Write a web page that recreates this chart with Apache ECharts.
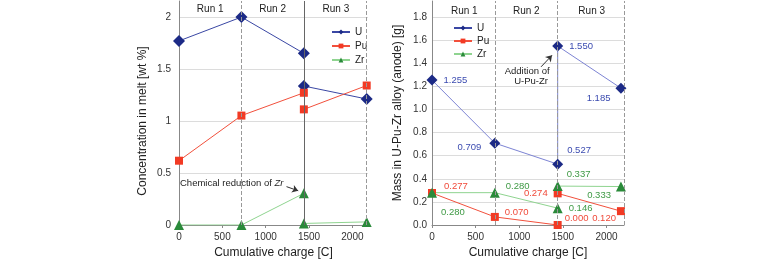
<!DOCTYPE html>
<html>
<head>
<meta charset="utf-8">
<script src="https://cdn.jsdelivr.net/npm/echarts@6/dist/echarts.min.js"></script>
<style>
  html, body { margin: 0; padding: 0; background: #fff; }
  #chart { width: 775px; height: 260px; }
</style>
</head>
<body>
<div id="chart"></div>
<script>
// 熔盐中浓度 (左图)
const chargeMeltA = [0, 720, 1440]
const chargeMeltB = [1440, 2165]
const uMeltA = [1.775, 2.005, 1.655]
const uMeltB = [1.34, 1.215]
const puMeltA = [0.62, 1.055, 1.275]
const puMeltB = [1.115, 1.345]
const zrMeltA = [0, 0, 0.305]
const zrMeltB = [0.015, 0.03]

// 阳极合金质量 (右图)
const chargeU = [0, 720, 1440, 1440, 2165]
const uMass = [1.255, 0.709, 0.527, 1.55, 1.185]
const chargeMassA = [0, 720, 1440]
const chargeMassB = [1440, 2165]
const puMassA = [0.277, 0.07, 0.0]
const puMassB = [0.274, 0.12]
const zrMassA = [0.28, 0.28, 0.146]
const zrMassB = [0.337, 0.333]

const runNames = ['Run 1', 'Run 2', 'Run 3']
const runCentersL = [360, 1080, 1810]
const runCentersR = [370, 1080, 1830]
const meltTicks = [0, 0.5, 1, 1.5, 2]
const massTicks = [0, 0.2, 0.4, 0.6, 0.8, 1.0, 1.2, 1.4, 1.6, 1.8]

// 数值标签的位置 (样式)
const uLabelPos = [
  { position: 'right', distance: 6 },
  { position: 'left', distance: 8, offset: [0, 4] },
  { position: 'right', distance: 4, offset: [0, -14] },
  { position: 'right', distance: 6 },
  { position: 'left', distance: 5, offset: [0, 10] }
]
const puLabelPosA = [
  { position: 'right', distance: 8, offset: [0, -7] },
  { position: 'right', distance: 6, offset: [0, -5] },
  { position: 'right', distance: 3, offset: [0, -7] }
]
const puLabelPosB = [
  { position: 'left', distance: 6 },
  { position: 'left', distance: 1, offset: [0, 7] }
]
const zrLabelPosA = [
  { position: 'right', distance: 4, offset: [0, 20] },
  { position: 'right', distance: 6, offset: [0, -6] },
  { position: 'right', distance: 6 }
]
const zrLabelPosB = [
  { position: 'right', distance: 4, offset: [0, -12] },
  { position: 'left', distance: 5, offset: [0, 9] }
]

const FONT = '"Liberation Sans", Arial, sans-serif'
const C_U = '#1c2a86', C_UL = '#3a47a4', C_UL2 = '#7d84d4'
const C_PU = '#f23a24', C_PUL = '#f2503c'
const C_ZR = '#2a8a3a', C_ZRL = '#8fd490'
const C_UT = '#3b4bb0', C_PUT = '#f04a3a', C_ZRT = '#3f9a45'

function pts(xs, ys, pos) {
  return ys.map((v, i) => {
    const d = { value: [xs[i], v] }
    if (pos) d.label = pos[i]
    return d
  })
}

function valueLabel(color) {
  return {
    show: true,
    fontFamily: FONT,
    fontSize: 9.5,
    color: color,
    formatter: p => p.value[1].toFixed(3)
  }
}

function lineSeries(name, idx, xs, ys, opts) {
  return {
    name: name,
    type: 'line',
    xAxisIndex: idx,
    yAxisIndex: idx,
    data: pts(xs, ys, opts.pos),
    symbol: opts.symbol,
    symbolSize: opts.size,
    itemStyle: { color: opts.color },
    lineStyle: { color: opts.lineColor, width: opts.width || 1 },
    label: opts.pos ? valueLabel(opts.textColor) : { show: false },
    z: 3,
    animation: false
  }
}

function splitColors(n) {
  const arr = []
  for (let i = 0; i < n; i++) arr.push('#dcdcdc')
  arr.push('rgba(0,0,0,0)')
  return arr
}

function runMarks(centers, y) {
  return centers.map((c, i) => ({
    name: runNames[i],
    coord: [c, y],
    symbol: 'rect',
    symbolSize: 0,
    label: { show: true, position: 'inside', formatter: '{b}', fontFamily: FONT, fontSize: 10, color: '#222' }
  }))
}

const axisName = { fontFamily: FONT, fontSize: 12, color: '#222' }
const axisText = { fontFamily: FONT, fontSize: 10, color: '#333' }

const chart = echarts.init(document.getElementById('chart'), null, { renderer: 'canvas' })

const option = {
  backgroundColor: '#fff',
  animation: false,
  grid: [
    { left: 179, top: 1, width: 189, height: 224, outerBoundsMode: 'none', containLabel: false },
    { left: 432, top: 1, width: 192, height: 224, outerBoundsMode: 'none', containLabel: false }
  ],
  legend: [
    {
      orient: 'vertical', left: 326, top: 22, itemWidth: 18, itemHeight: 6, itemGap: 4,
      data: ['U', 'Pu', 'Zr'], textStyle: { fontFamily: FONT, fontSize: 10, color: '#222' }
    },
    {
      orient: 'vertical', left: 448, top: 18, itemWidth: 18, itemHeight: 6, itemGap: 3,
      data: ['U', 'Pu', 'Zr'], textStyle: { fontFamily: FONT, fontSize: 10, color: '#222' }
    }
  ],
  xAxis: [0, 1].map(i => ({
    type: 'value',
    gridIndex: i,
    min: 0,
    max: i === 0 ? 2180 : 2200,
    interval: 500,
    name: 'Cumulative charge [C]',
    nameLocation: 'middle',
    nameGap: 22,
    nameTextStyle: axisName,
    axisLine: { show: true, lineStyle: { color: '#888' } },
    axisTick: { show: true, length: 3, lineStyle: { color: '#888' } },
    axisLabel: Object.assign({ margin: 7, showMaxLabel: false, formatter: v => String(v) }, axisText),
    splitLine: { show: false }
  })),
  yAxis: [
    {
      type: 'value', gridIndex: 0, min: 0, max: 2.16, interval: 0.5,
      name: 'Concentration in melt [wt %]', nameLocation: 'middle', nameGap: 30,
      nameTextStyle: Object.assign({ padding: [0, 16, 0, 0] }, axisName),
      axisLine: { show: true, lineStyle: { color: '#888' } },
      axisTick: { show: false },
      axisLabel: Object.assign({ margin: 8, showMaxLabel: false, formatter: v => meltTicks.includes(v) ? String(v) : '' }, axisText),
      splitLine: { show: true, lineStyle: { color: splitColors(meltTicks.length) } }
    },
    {
      type: 'value', gridIndex: 1, min: 0, max: 1.94, interval: 0.2,
      name: 'Mass in U-Pu-Zr alloy (anode) [g]', nameLocation: 'middle', nameGap: 28,
      nameTextStyle: axisName,
      axisLine: { show: true, lineStyle: { color: '#888' } },
      axisTick: { show: false },
      axisLabel: Object.assign({ margin: 5, showMaxLabel: false, formatter: v => v.toFixed(1) }, axisText),
      splitLine: { show: true, lineStyle: { color: splitColors(massTicks.length) } }
    }
  ],
  series: [
    // 分隔线与注释 (左)
    {
      type: 'line', xAxisIndex: 0, yAxisIndex: 0, data: [], z: 1, silent: true,
      markLine: {
        symbol: 'none', silent: true, label: { show: false }, animation: false,
        data: [
          { xAxis: 720, lineStyle: { color: '#999', type: 'dashed', width: 1 } },
          { xAxis: 1440, lineStyle: { color: '#666', type: 'solid', width: 1 } },
          { xAxis: 2165, lineStyle: { color: '#999', type: 'dashed', width: 1 } }
        ]
      },
      markPoint: {
        animation: false,
        data: runMarks(runCentersL, 2.08).concat([{
          coord: [1205, 0.4], symbol: 'rect', symbolSize: 0,
          label: {
            show: true, position: 'left', distance: 0,
            formatter: 'Chemical reduction of {i|Zr}',
            fontFamily: FONT, fontSize: 9.5, color: '#222',
            rich: { i: { fontStyle: 'italic', fontFamily: FONT, fontSize: 9.5, color: '#222' } }
          }
        }])
      }
    },
    {
      type: 'line', xAxisIndex: 0, yAxisIndex: 0, data: [], z: 4, silent: true,
      markLine: {
        symbol: ['none', 'arrow'], symbolSize: 6, silent: true, label: { show: false }, animation: false,
        lineStyle: { color: '#333', type: 'solid', width: 1 },
        data: [[{ coord: [1240, 0.37] }, { coord: [1375, 0.33] }]]
      }
    },
    // 分隔线与注释 (右)
    {
      type: 'line', xAxisIndex: 1, yAxisIndex: 1, data: [], z: 1, silent: true,
      markLine: {
        symbol: 'none', silent: true, label: { show: false }, animation: false,
        data: [
          { xAxis: 720, lineStyle: { color: '#999', type: 'dashed', width: 1 } },
          { xAxis: 1440, lineStyle: { color: '#999', type: 'dashed', width: 1 } },
          { xAxis: 2200, lineStyle: { color: '#999', type: 'dashed', width: 1 } }
        ]
      },
      markPoint: {
        animation: false,
        data: runMarks(runCentersR, 1.85).concat([{
          coord: [1090, 1.29], symbol: 'rect', symbolSize: 0,
          label: {
            show: true, position: 'inside', align: 'center',
            formatter: 'Addition of\n   U-Pu-Zr', lineHeight: 10,
            fontFamily: FONT, fontSize: 9.5, color: '#222'
          }
        }])
      }
    },
    {
      type: 'line', xAxisIndex: 1, yAxisIndex: 1, data: [], z: 4, silent: true,
      markLine: {
        symbol: ['none', 'arrow'], symbolSize: 6, silent: true, label: { show: false }, animation: false,
        lineStyle: { color: '#333', type: 'solid', width: 1 },
        data: [[{ coord: [1250, 1.37] }, { coord: [1375, 1.47] }]]
      }
    },
    // 左图数据
    lineSeries('U', 0, chargeMeltA, uMeltA, { symbol: 'diamond', size: 12, color: C_U, lineColor: C_UL }),
    lineSeries('U', 0, chargeMeltB, uMeltB, { symbol: 'diamond', size: 12, color: C_U, lineColor: C_UL }),
    lineSeries('Pu', 0, chargeMeltA, puMeltA, { symbol: 'rect', size: 8, color: C_PU, lineColor: C_PUL }),
    lineSeries('Pu', 0, chargeMeltB, puMeltB, { symbol: 'rect', size: 8, color: C_PU, lineColor: C_PUL }),
    lineSeries('Zr', 0, chargeMeltA, zrMeltA, { symbol: 'triangle', size: 10, color: C_ZR, lineColor: C_ZRL }),
    lineSeries('Zr', 0, chargeMeltB, zrMeltB, { symbol: 'triangle', size: 10, color: C_ZR, lineColor: C_ZRL }),
    // 右图数据
    lineSeries('U', 1, chargeU, uMass, { symbol: 'diamond', size: 11, color: C_U, lineColor: C_UL2, pos: uLabelPos, textColor: C_UT }),
    lineSeries('Pu', 1, chargeMassA, puMassA, { symbol: 'rect', size: 8, color: C_PU, lineColor: C_PUL, pos: puLabelPosA, textColor: C_PUT }),
    lineSeries('Pu', 1, chargeMassB, puMassB, { symbol: 'rect', size: 8, color: C_PU, lineColor: C_PUL, pos: puLabelPosB, textColor: C_PUT }),
    lineSeries('Zr', 1, chargeMassA, zrMassA, { symbol: 'triangle', size: 10, color: C_ZR, lineColor: C_ZRL, pos: zrLabelPosA, textColor: C_ZRT }),
    lineSeries('Zr', 1, chargeMassB, zrMassB, { symbol: 'triangle', size: 10, color: C_ZR, lineColor: C_ZRL, pos: zrLabelPosB, textColor: C_ZRT })
  ]
}

chart.setOption(option)
</script>
</body>
</html>
